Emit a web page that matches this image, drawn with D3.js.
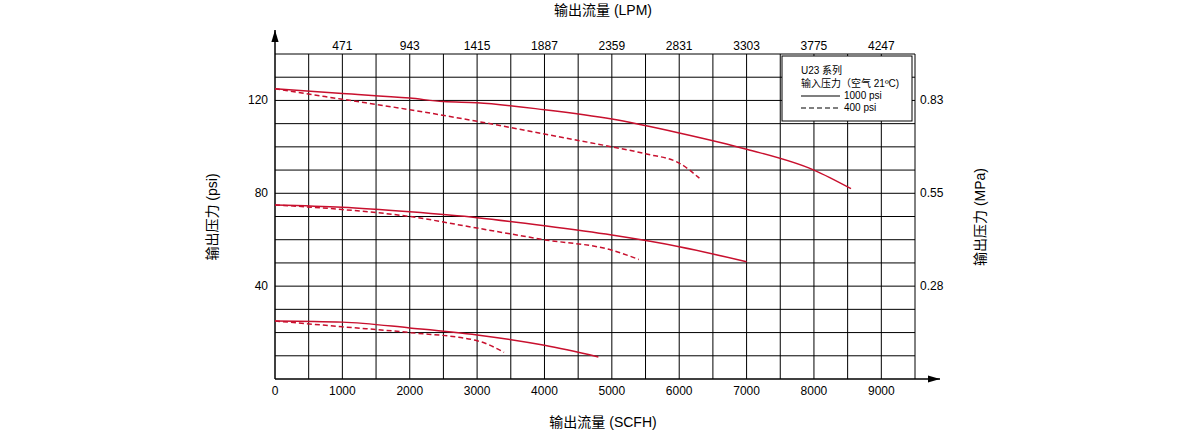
<!DOCTYPE html>
<html><head><meta charset="utf-8">
<script src="https://cdn.jsdelivr.net/npm/d3@7"></script>
<style>body{margin:0;background:#fff;font-family:"Liberation Sans","Noto Sans CJK SC",sans-serif;}</style>
</head><body><svg id="chart" width="1191" height="430"></svg>
<script>
var scfhTicks = [0,1000,2000,3000,4000,5000,6000,7000,8000,9000];
var lpmTicks = [471,943,1415,1887,2359,2831,3303,3775,4247];
var psiTicks = [40,80,120];
var mpaTicks = ["0.28","0.55","0.83"];
// [scfh, psi]
var solidHigh = [[0,125],[1000,123],[2000,121],[2500,119.5],[3000,119],[4000,116],[5000,112],[6000,106],[7000,99],[8000,90],[8550,82]];
var dashHigh = [[0,125],[1000,120.5],[2000,116],[3000,111],[4000,105.5],[5000,100],[5500,97],[6000,93],[6300,86.5]];
var solidMid = [[0,75],[1000,74],[2000,72],[3000,69.5],[4000,66],[5000,62],[6000,57],[7000,50.5]];
var dashMid = [[0,75],[1000,73],[2000,70],[3000,65],[4000,60],[5000,55.5],[5400,51.5]];
var solidLow = [[0,25],[1000,24.5],[2000,22],[3000,19],[4000,14.5],[4800,9.5]];
var dashLow = [[0,25],[1000,22.5],[2000,20],[3000,16.5],[3400,11.5]];

var svg = d3.select("#chart");
var x = d3.scaleLinear().domain([0,9500]).range([275,915]);
var y = d3.scaleLinear().domain([0,140]).range([379,54]);
var red = "#c8102e";

var grid = svg.append("g").attr("stroke","#000").attr("stroke-width",1);
d3.range(500,9500,500).forEach(function(v){
  grid.append("line").attr("x1",x(v)).attr("x2",x(v)).attr("y1",y(0)).attr("y2",y(140));
});
d3.range(10,140,10).forEach(function(v){
  grid.append("line").attr("x1",x(0)).attr("x2",x(9500)).attr("y1",y(v)).attr("y2",y(v));
});
grid.append("line").attr("x1",x(0)).attr("x2",x(9500)).attr("y1",y(140)).attr("y2",y(140));
grid.append("line").attr("x1",x(9500)).attr("x2",x(9500)).attr("y1",y(0)).attr("y2",y(140));

// axes with arrows
svg.append("defs").append("marker").attr("id","arr").attr("viewBox","0 0 10 10")
  .attr("refX",10).attr("refY",5).attr("markerWidth",8).attr("markerHeight",8).attr("orient","auto")
  .append("path").attr("d","M0,2L10,5L0,8Z").attr("fill","#000");
svg.append("line").attr("x1",x(0)).attr("x2",x(0)).attr("y1",y(0)).attr("y2",30)
  .attr("stroke","#000").attr("stroke-width",1.5).attr("marker-end","url(#arr)");
svg.append("line").attr("x1",x(0)).attr("x2",940).attr("y1",y(0)).attr("y2",y(0))
  .attr("stroke","#000").attr("stroke-width",1.5).attr("marker-end","url(#arr)");

var t = svg.append("g").attr("font-size",12).attr("fill","#000");
scfhTicks.forEach(function(v){
  t.append("text").attr("x",x(v)).attr("y",y(0)+16).attr("text-anchor","middle").text(v);
});
lpmTicks.forEach(function(v,i){
  t.append("text").attr("x",x((i+1)*1000)).attr("y",50).attr("text-anchor","middle").text(v);
});
psiTicks.forEach(function(v,i){
  t.append("text").attr("x",268).attr("y",y(v)+4).attr("text-anchor","end").text(v);
  t.append("text").attr("x",920).attr("y",y(v)+4).text(mpaTicks[i]);
});
var tt = svg.append("g").attr("font-size",14).attr("fill","#000");
tt.append("text").attr("x",603).attr("y",15).attr("text-anchor","middle").text("输出流量 (LPM)");
tt.append("text").attr("x",603).attr("y",427).attr("text-anchor","middle").text("输出流量 (SCFH)");
tt.append("text").attr("transform","translate(217,217) rotate(-90)").attr("text-anchor","middle").text("输出压力 (psi)");
tt.append("text").attr("transform","translate(985,217) rotate(-90)").attr("text-anchor","middle").text("输出压力 (MPa)");

var line = d3.line().x(function(d){return x(d[0]);}).y(function(d){return y(d[1]);}).curve(d3.curveMonotoneX);
[[solidHigh,false],[dashHigh,true],[solidMid,false],[dashMid,true],[solidLow,false],[dashLow,true]].forEach(function(s){
  svg.append("path").attr("d",line(s[0])).attr("fill","none").attr("stroke",red)
    .attr("stroke-width",1.5).attr("stroke-dasharray",s[1]?"5,3":null);
});

// legend
var lg = svg.append("g");
lg.append("rect").attr("x",782).attr("y",56).attr("width",130).attr("height",65).attr("fill","#fff").attr("stroke","#000");
lg.append("text").attr("x",801).attr("y",74).attr("font-size",10).text("U23 系列");
lg.append("text").attr("x",801).attr("y",87).attr("font-size",10).text("输入压力（空气 21ºC)");
lg.append("line").attr("x1",801).attr("x2",840).attr("y1",96).attr("y2",96).attr("stroke","#000").attr("stroke-width",1.2);
lg.append("text").attr("x",844).attr("y",99).attr("font-size",10).text("1000 psi");
lg.append("line").attr("x1",801).attr("x2",840).attr("y1",108).attr("y2",108).attr("stroke","#000").attr("stroke-width",1.2).attr("stroke-dasharray","5,3");
lg.append("text").attr("x",844).attr("y",111).attr("font-size",10).text("400 psi");
</script></body></html>
